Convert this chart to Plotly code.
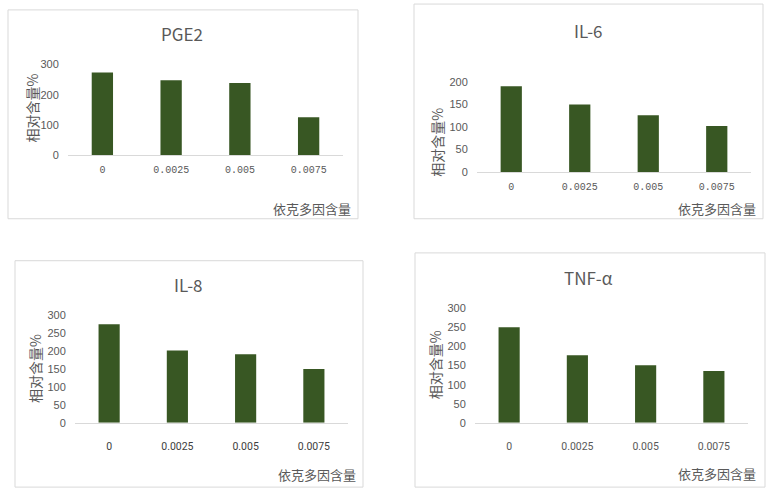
import plotly.graph_objects as go

W, H = 766, 498

categories = ["0", "0.0025", "0.005", "0.0075"]
pge2 = [274, 248, 239, 126]
il6 = [191, 150, 126, 102]
il8 = [275, 202, 191, 150]
tnfa = [251, 177, 151, 136]

titles = ["PGE2", "IL-6", "IL-8", "TNF-α"]
series = [pge2, il6, il8, tnfa]
y_ranges = [[0, 300], [0, 200], [0, 300], [0, 300]]
y_dticks = [100, 50, 50, 50]
x_title = "依克多因含量"
y_title = "相对含量%"

BAR = "#385723"
TXT = "#595959"
GRID = "#d9d9d9"


def fx(px):
    return px / W


def fy(py):
    return 1 - py / H


# plot areas in pixels: (x0, x1, ytop, ybottom)
areas = [(68, 343, 60, 153), (477, 751, 78, 170), (75, 348, 317, 427), (475, 748, 310, 427)]
boxes = [(8, 358, 4, 218), (414, 763, -2, 218), (15, 363, 261, 493), (415, 765, 253, 493)]
title_pos = [(182, 28), (588, 25), (188, 285), (588, 278)]
xt_pos = [(353, 208), (758, 208), (358, 480), (758, 479)]
yt_pos = [(32, 105), (437, 140), (35, 372), (435, 368)]
tick_fonts = [
    dict(family="Liberation Mono", size=10, color=TXT),
    dict(family="Liberation Mono", size=10, color=TXT),
    dict(family="Roboto", size=10.5, color="#404040"),
    dict(family="Roboto", size=10.5, color=TXT),
]
xticklen = [5, 5, 14, 14]

fig = go.Figure()
layout = dict(
    width=W, height=H, margin=dict(l=0, r=0, t=0, b=0),
    paper_bgcolor="white", plot_bgcolor="white", showlegend=False,
)
annotations = []
shapes = []

for i in range(4):
    n = "" if i == 0 else str(i + 1)
    x0, x1, yt, yb = areas[i]
    fig.add_trace(go.Bar(x=categories, y=series[i], marker_color=BAR,
                         marker_line_width=0, xaxis="x" + n, yaxis="y" + n,
                         width=0.31))
    layout["xaxis" + n] = dict(
        domain=[fx(x0), fx(x1)], anchor="y" + n, type="category",
        showline=True, linecolor=GRID, linewidth=1, showgrid=False,
        ticks="outside", ticklen=xticklen[i], tickcolor="rgba(0,0,0,0)",
        tickfont=tick_fonts[i], fixedrange=True,
    )
    layout["yaxis" + n] = dict(
        domain=[fy(yb), fy(yt)], anchor="x" + n, range=y_ranges[i],
        dtick=y_dticks[i], tick0=0, showgrid=False, zeroline=False,
        showline=False, ticks="outside", ticklen=6, tickcolor="rgba(0,0,0,0)",
        tickfont=dict(family="Liberation Sans", size=11, color=TXT),
        fixedrange=True,
    )
    bx0, bx1, by0, by1 = boxes[i]
    shapes.append(dict(type="rect", xref="paper", yref="paper",
                       x0=fx(bx0), x1=fx(bx1), y0=fy(by1), y1=fy(by0),
                       line=dict(color=GRID, width=1), fillcolor="rgba(0,0,0,0)",
                       layer="below"))
    tx, ty = title_pos[i]
    annotations.append(dict(text=titles[i], x=fx(tx), y=fy(ty), xref="paper", yref="paper",
                            showarrow=False, xanchor="center", yanchor="middle",
                            font=dict(family="Noto Sans CJK SC", size=17, color=TXT)))
    ax, ay = xt_pos[i]
    annotations.append(dict(text=x_title, x=fx(ax), y=fy(ay), xref="paper", yref="paper",
                            showarrow=False, xanchor="right", yanchor="middle",
                            font=dict(family="Noto Sans CJK SC", size=13, color=TXT)))
    yx, yy = yt_pos[i]
    annotations.append(dict(text=y_title, x=fx(yx), y=fy(yy), xref="paper", yref="paper",
                            showarrow=False, xanchor="center", yanchor="middle", textangle=-90,
                            font=dict(family="Noto Sans CJK SC", size=14, color=TXT)))

layout["annotations"] = annotations
layout["shapes"] = shapes
fig.update_layout(**layout)
fig.write_html("out.html")
